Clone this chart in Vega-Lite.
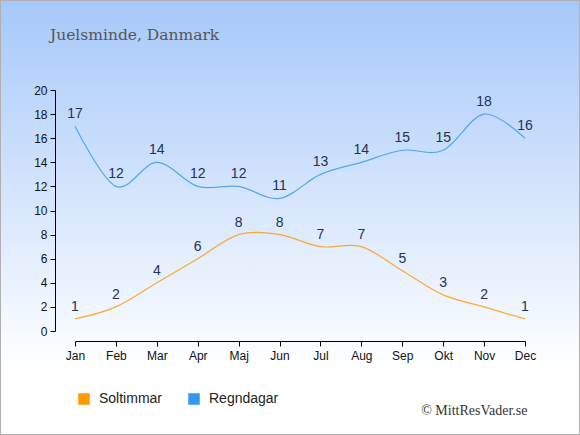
{
  "$schema": "https://vega.github.io/schema/vega-lite/v6.json",
  "width": 580,
  "height": 435,
  "autosize": "none",
  "padding": 0,
  "background": "#ffffff",
  "title": {
    "text": "Juelsminde, Danmark",
    "anchor": "start",
    "frame": "group",
    "offset": -43,
    "dx": 50,
    "font": "DejaVu Serif",
    "fontSize": 15.5,
    "fontWeight": "normal",
    "color": "#555555"
  },
  "config": {
    "view": {
      "fill": {
        "gradient": "linear",
        "x1": 0, "y1": 0, "x2": 0, "y2": 1,
        "stops": [
          {"offset": 0, "color": "#a6c8fa"},
          {"offset": 0.85, "color": "#ffffff"},
          {"offset": 1, "color": "#ffffff"}
        ]
      },
      "stroke": "#b0b0b0",
      "strokeWidth": 2
    }
  },
  "data": {
    "values": [
      {"month": "Jan", "series": "Soltimmar", "value": 1},
      {"month": "Feb", "series": "Soltimmar", "value": 2},
      {"month": "Mar", "series": "Soltimmar", "value": 4},
      {"month": "Apr", "series": "Soltimmar", "value": 6},
      {"month": "Maj", "series": "Soltimmar", "value": 8},
      {"month": "Jun", "series": "Soltimmar", "value": 8},
      {"month": "Jul", "series": "Soltimmar", "value": 7},
      {"month": "Aug", "series": "Soltimmar", "value": 7},
      {"month": "Sep", "series": "Soltimmar", "value": 5},
      {"month": "Okt", "series": "Soltimmar", "value": 3},
      {"month": "Nov", "series": "Soltimmar", "value": 2},
      {"month": "Dec", "series": "Soltimmar", "value": 1},
      {"month": "Jan", "series": "Regndagar", "value": 17},
      {"month": "Feb", "series": "Regndagar", "value": 12},
      {"month": "Mar", "series": "Regndagar", "value": 14},
      {"month": "Apr", "series": "Regndagar", "value": 12},
      {"month": "Maj", "series": "Regndagar", "value": 12},
      {"month": "Jun", "series": "Regndagar", "value": 11},
      {"month": "Jul", "series": "Regndagar", "value": 13},
      {"month": "Aug", "series": "Regndagar", "value": 14},
      {"month": "Sep", "series": "Regndagar", "value": 15},
      {"month": "Okt", "series": "Regndagar", "value": 15},
      {"month": "Nov", "series": "Regndagar", "value": 18},
      {"month": "Dec", "series": "Regndagar", "value": 16}
    ]
  },
  "encoding": {
    "x": {
      "field": "month",
      "type": "ordinal",
      "sort": null,
      "scale": {
        "type": "point",
        "domain": ["Jan", "Feb", "Mar", "Apr", "Maj", "Jun", "Jul", "Aug", "Sep", "Okt", "Nov", "Dec"],
        "range": [75, 525],
        "padding": 0
      },
      "axis": {
        "orient": "bottom",
        "offset": -94,
        "title": "© MittResVader.se",
        "titleFont": "Liberation Serif",
        "titleFontSize": 14,
        "titleFontWeight": "normal",
        "titleColor": "#333333",
        "titleAlign": "right",
        "titleAnchor": "end",
        "titleX": 527,
        "titleY": 62,
        "labelAngle": 0,
        "labelFont": "Liberation Sans",
        "labelFontSize": 12,
        "labelColor": "#111111",
        "labelPadding": 4,
        "domainColor": "#000000",
        "tickColor": "#000000",
        "tickSize": 5,
        "grid": false
      }
    },
    "y": {
      "field": "value",
      "type": "quantitative",
      "scale": {"domain": [0, 20], "range": [331, 90], "nice": false},
      "axis": {
        "orient": "left",
        "offset": -55,
        "title": null,
        "values": [0, 2, 4, 6, 8, 10, 12, 14, 16, 18, 20],
        "labelFont": "Liberation Sans",
        "labelFontSize": 12,
        "labelColor": "#111111",
        "labelPadding": 3,
        "domainColor": "#000000",
        "tickColor": "#000000",
        "tickSize": 5,
        "grid": false
      }
    }
  },
  "layer": [
    {
      "mark": {"type": "line", "interpolate": "cardinal", "strokeWidth": 1.2, "opacity": 0.8},
      "encoding": {
        "color": {
          "field": "series",
          "type": "nominal",
          "scale": {"domain": ["Soltimmar", "Regndagar"], "range": ["#ff9900", "#3399ee"]},
          "legend": {
            "orient": "none",
            "legendX": 77,
            "legendY": 392,
            "direction": "horizontal",
            "title": null,
            "symbolType": "square",
            "symbolSize": 100,
            "symbolOpacity": 1,
            "labelFont": "Liberation Sans",
            "labelFontSize": 14,
            "labelColor": "#222222",
            "labelOffset": 8,
            "columnPadding": 23,
            "encode": {
              "symbols": {
                "update": {
                  "fill": {"scale": "color", "field": "value"},
                  "stroke": {"value": "transparent"},
                  "opacity": {"value": 1}
                }
              }
            }
          }
        }
      }
    },
    {
      "mark": {"type": "text", "dy": -8, "baseline": "alphabetic", "font": "Liberation Sans", "fontSize": 14, "color": "#223355"},
      "encoding": {
        "text": {"field": "value", "type": "quantitative"}
      }
    }
  ]
}
